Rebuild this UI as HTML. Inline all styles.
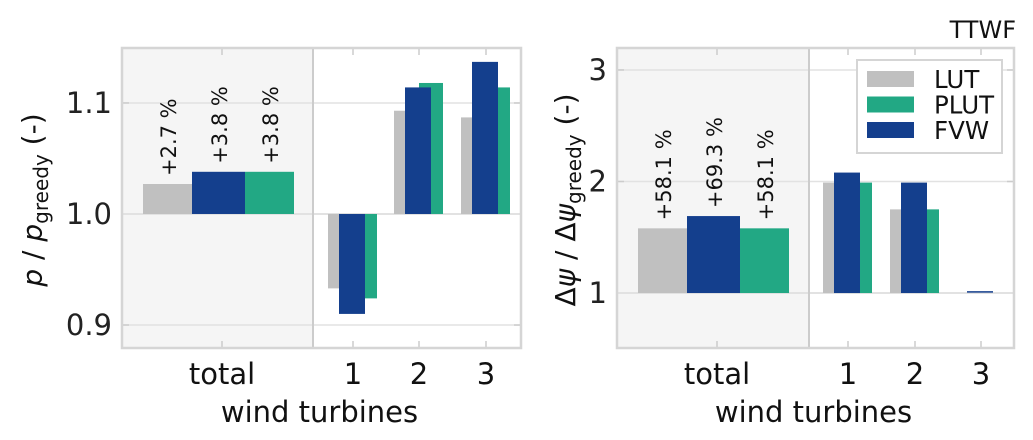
<!DOCTYPE html>
<html><head><meta charset="utf-8"><style>
body{margin:0;background:#fff;}
svg{display:block;font-family:"DejaVu Sans","Liberation Sans",sans-serif;}
</style></head><body>
<svg id="c" width="1033" height="440" viewBox="0 0 1033 440" xmlns="http://www.w3.org/2000/svg"></svg>
<script>
const series = ['LUT','PLUT','FVW'];
const groups = ['total','1','2','3'];
const leftLUT = [1.027, 0.933, 1.093, 1.087];
const leftPLUT = [1.038, 0.924, 1.118, 1.114];
const leftFVW = [1.038, 0.910, 1.114, 1.137];
const leftAnn = ['+2.7 %','+3.8 %','+3.8 %'];
const leftTicks = [0.9, 1.0, 1.1];
const leftTickLabels = ['0.9','1.0','1.1'];
const rightLUT = [1.58, 1.99, 1.75, 1.0];
const rightPLUT = [1.58, 1.99, 1.75, 1.0];
const rightFVW = [1.69, 2.08, 1.99, 1.01];
const rightAnn = ['+58.1 %','+69.3 %','+58.1 %'];
const rightTicks = [1, 2, 3];
const rightTickLabels = ['1','2','3'];
const colors = {LUT:'#c0c0c0', PLUT:'#22a884', FVW:'#143f8d'};
const NS='http://www.w3.org/2000/svg';
const svg=document.getElementById('c');
function el(tag, attrs, parent){const e=document.createElementNS(NS,tag);for(const k in attrs)e.setAttribute(k,attrs[k]);(parent||svg).appendChild(e);return e;}

function panel(cfg){
  const {x0,x1,y0,y1,div,ymin,ymax,ticks,tickLabels,lut,plut,fvw,ann,base,gx,prefix}=cfg;
  const y=v=>y1-(v-ymin)/(ymax-ymin)*(y1-y0);
  const g=el('g',{});
  
  
  let r=el('rect',{x:x0,y:y0,width:div-x0,height:y1-y0,fill:'#f5f5f5'},g);
  
  
  ticks.forEach((t,i)=>{
    let l=el('line',{x1:x0,x2:x1,y1:y(t),y2:y(t),stroke:'#e2e2e2','stroke-width':1.5},g);
    
    
    el('line',{x1:x0,x2:x0+7,y1:y(t),y2:y(t),stroke:'#ccc','stroke-width':1.5},g);
    el('line',{x1:x1-7,x2:x1,y1:y(t),y2:y(t),stroke:'#ccc','stroke-width':1.5},g);
    let tx=el('text',{x:x0-10,y:y(t)+10,'text-anchor':'end','font-size':29,fill:'#222'},g);
    tx.textContent=tickLabels[i];
    
    
  });
  el('line',{x1:x0,x2:x1,y1:y(base),y2:y(base),stroke:'#e2e2e2','stroke-width':2},g);
  groups.forEach((name,i)=>{
    const t=gx[i];
    el('line',{x1:t,x2:t,y1:y0,y2:y0+7,stroke:'#ccc','stroke-width':1.5},g);
    el('line',{x1:t,x2:t,y1:y1-7,y2:y1,stroke:'#ccc','stroke-width':1.5},g);
    let tl=el('text',{x:t,y:384,'text-anchor':'middle','font-size':29,fill:'#111'},g);
    tl.textContent=name;
    
    
    let offs;
    if(i===0) offs={LUT:[-79,-30],FVW:[-30,23],PLUT:[23,72]};
    else offs={LUT:[-25,-1],PLUT:[0,24],FVW:[-14,12]};
    const vals={LUT:lut[i],PLUT:plut[i],FVW:fvw[i]};
    ['LUT','PLUT','FVW'].forEach(s=>{
      const v=vals[s];
      const ya=y(Math.max(v,base)), yb=y(Math.min(v,base));
      let h=yb-ya; let yy=ya;
      if(h<0.5) return;
      if(h<1.5){h=1.5; yy=ya-0.75;}
      let b=el('rect',{x:t+offs[s][0],y:yy,width:offs[s][1]-offs[s][0],height:h,fill:colors[s]},g);
      
      
    });
    if(i===0){
      const order=[['LUT',-54],['FVW',-3],['PLUT',48]];
      order.forEach(([s,o],k)=>{
        const top=y(vals[s])-8;
        let a=el('text',{x:0,y:0,'font-size':21,fill:'#111',transform:`translate(${t+o+8},${top}) rotate(-90)`},g);
        a.textContent=ann[k];
        
        
      });
    }
  });
  el('line',{x1:div,x2:div,y1:y0,y2:y1,stroke:'#ccc','stroke-width':2},g);
  let fr=el('rect',{x:x0,y:y0,width:x1-x0,height:y1-y0,fill:'none',stroke:'#d5d5d5','stroke-width':2.5},g);
  
  
  let xl=el('text',{x:(x0+x1)/2-2,y:422,'text-anchor':'middle','font-size':29,fill:'#111'},g);
  xl.textContent='wind turbines';
  
  
  return y;
}

panel({x0:122,x1:521,y0:48,y1:348,div:313,ymin:0.8793,ymax:1.1495,ticks:leftTicks,tickLabels:leftTickLabels,
  lut:leftLUT,plut:leftPLUT,fvw:leftFVW,ann:leftAnn,base:1.0,gx:[222,353,419,486],prefix:'left'});
panel({x0:617,x1:1014,y0:48,y1:348,div:809,ymin:0.507,ymax:3.197,ticks:rightTicks,tickLabels:rightTickLabels,
  lut:rightLUT,plut:rightPLUT,fvw:rightFVW,ann:rightAnn,base:1.0,gx:[717,848,915,981],prefix:'right'});

let yl=el('text',{x:0,y:0,'font-size':28,fill:'#111','text-anchor':'middle',transform:'translate(42,200) rotate(-90)'});
yl.innerHTML='<tspan font-style="italic">p</tspan> / <tspan font-style="italic">p</tspan><tspan font-size="20" dy="6">greedy</tspan><tspan dy="-6"> (-)</tspan>';


let yr=el('text',{x:0,y:0,'font-size':28,fill:'#111','text-anchor':'middle',transform:'translate(575,200) rotate(-90)'});
yr.innerHTML='Δ<tspan font-style="italic">ψ</tspan> / Δ<tspan font-style="italic">ψ</tspan><tspan font-size="20" dy="6">greedy</tspan><tspan dy="-6"> (-)</tspan>';



let ti=el('text',{x:1016,y:38,'text-anchor':'end','font-size':24,fill:'#111'});
ti.textContent='TTWF';



const lg=el('g',{});


el('rect',{x:857,y:60,width:145,height:93,fill:'#fff',stroke:'#d5d5d5','stroke-width':2},lg);
['LUT','PLUT','FVW'].forEach((s,i)=>{
  const yy=79+i*25.5;
  let sw=el('rect',{x:867,y:yy-8,width:47,height:16,fill:colors[s]},lg);
  
  
  let t=el('text',{x:934,y:yy+9,'font-size':24.5,fill:'#111'},lg);
  t.textContent=s;
  
  
});
</script>
</body></html>
